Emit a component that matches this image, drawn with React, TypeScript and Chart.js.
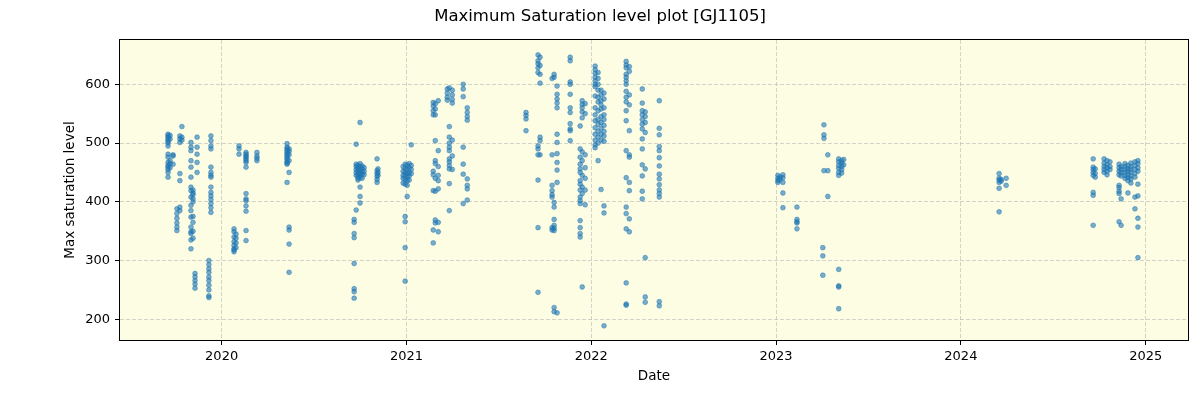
import React, { useEffect, useRef } from "react";
import { Chart, registerables } from "chart.js";

Chart.register(...registerables);

const TITLE = "Maximum Saturation level plot [GJ1105]";
const X_LABEL = "Date";
const Y_LABEL = "Max saturation level";
const X_TICKS = [2020, 2021, 2022, 2023, 2024, 2025];
const Y_TICKS = [200, 300, 400, 500, 600];
const X_MIN = 2019.45;
const X_MAX = 2025.229;
const Y_MIN = 164.8;
const Y_MAX = 675.4;

// [decimal year, values observed that night]
type Night = [number, number[]];

const season2019: Night[] = [
  [2019.71, [515, 512, 509, 506, 503, 500, 495, 481, 476, 467, 462, 459, 455, 450, 442]],
  [2019.721, [513, 507, 470, 465, 458]],
  [2019.737, [480, 478, 464]],
  [2019.758, [388, 380, 372, 364, 357, 351]],
  [2019.774, [512, 507, 501, 448, 436, 391, 385]],
  [2019.785, [528, 510, 505]],
  [2019.834, [501, 493, 487, 470, 459, 442, 425, 419, 408, 394, 385, 374, 357, 349, 346, 335, 320]],
  [2019.845, [420, 415, 412, 405, 400, 375, 365, 350, 338]],
  [2019.856, [278, 272, 266, 260, 253]],
  [2019.867, [510, 493, 481, 467, 450]],
  [2019.931, [300, 293, 286, 280, 272, 266, 258, 250, 240, 237]],
  [2019.942, [512, 504, 495, 490, 459, 450, 445, 442, 425, 416, 410, 404, 397, 390, 382]],
];

const season2020a: Night[] = [
  [2020.067, [354, 349, 340, 332, 326, 320, 318, 315]],
  [2020.078, [345, 338, 330, 322]],
  [2020.094, [495, 490, 481]],
  [2020.132, [484, 481, 478, 476, 473, 470, 467, 459, 414, 405, 402, 393, 384, 351, 334]],
  [2020.191, [484, 478, 474, 470]],
  [2020.354, [499, 493, 490, 487, 484, 481, 478, 475, 472, 468, 466, 464, 433]],
  [2020.365, [490, 486, 480, 470, 450, 357, 352, 328, 280]],
];

const season2020b: Night[] = [
  [2020.717, [370, 365, 346, 339, 295, 252, 247, 236]],
  [2020.728, [498, 464, 460, 455, 450, 445, 386]],
  [2020.738, [462, 458, 453, 448, 444, 440, 437]],
  [2020.749, [535, 465, 460, 455, 450, 446, 441, 425, 409, 398]],
  [2020.76, [461, 456, 451, 447, 440]],
  [2020.771, [458, 452, 446]],
  [2020.841, [473, 453, 448, 443, 438, 433]],
  [2020.846, [456, 450, 445]],
  [2020.982, [460, 452, 445, 440, 432]],
  [2020.993, [464, 457, 450, 445, 438, 430, 375, 366, 322, 265]],
  [2021.004, [462, 455, 448, 442, 436, 428, 409]],
  [2021.015, [465, 458, 450, 444, 437]],
  [2021.026, [497, 462, 455, 448]],
];

const season2021a: Night[] = [
  [2021.145, [569, 563, 555, 548, 452, 446, 419, 352, 330]],
  [2021.156, [567, 558, 548, 504, 470, 465, 440, 418, 369, 364]],
  [2021.172, [572, 487, 460, 445, 436, 422, 365, 349]],
  [2021.221, [592, 585, 578, 573]],
  [2021.232, [594, 528, 510, 500, 493, 487, 473, 468, 462, 456, 431, 385]],
  [2021.248, [590, 582, 574, 568, 505, 478, 455]],
  [2021.307, [600, 592, 579, 493, 464, 447, 397]],
  [2021.329, [560, 552, 545, 539, 439, 428, 422, 403]],
];

const season2021b: Night[] = [
  [2021.647, [552, 547, 541, 521]],
  [2021.712, [650, 640, 635, 628, 620, 495, 490, 480, 437, 356, 246]],
  [2021.723, [646, 632, 617, 602, 510, 504, 480]],
  [2021.788, [610, 480, 428, 419, 412, 408, 356, 352]],
  [2021.799, [617, 612, 399, 391, 370, 360, 355, 351, 220, 213]],
  [2021.815, [597, 583, 575, 568, 560, 515, 501, 482, 467, 454, 433, 211]],
  [2021.886, [646, 640, 604, 600, 583, 560, 552, 533, 524, 521, 504]],
  [2021.94, [529, 490, 476, 464, 456, 450, 436, 430, 420, 408, 402, 397, 368, 356, 346, 340]],
  [2021.951, [572, 566, 560, 553, 543, 485, 470, 445, 425, 414, 255]],
  [2021.967, [567, 550, 480, 458, 440, 420, 395]],
];

const season2022: Night[] = [
  [2022.021, [631, 625, 619, 612, 606, 600, 596, 580, 560, 548, 538, 526, 515, 505, 497, 492]],
  [2022.037, [620, 610, 600, 590, 578, 570, 555, 540, 532, 520, 510, 500, 470]],
  [2022.053, [590, 582, 572, 565, 558, 545, 535, 525, 515, 505, 421]],
  [2022.069, [585, 575, 560, 548, 540, 530, 520, 512, 503, 393, 381, 189]],
  [2022.189, [639, 633, 628, 617, 612, 606, 600, 588, 578, 570, 555, 538, 487, 441, 391, 380, 354, 262, 224, 226]],
  [2022.206, [630, 622, 582, 565, 521, 480, 476, 433, 419, 371, 349]],
  [2022.276, [592, 568, 555, 548, 540, 532, 524, 507, 490, 463, 444, 418, 405]],
  [2022.292, [553, 545, 535, 518, 456, 305, 238, 229]],
  [2022.368, [572, 525, 514, 494, 487, 475, 461, 447, 439, 429, 420, 414, 408, 230, 223]],
];

const season2023: Night[] = [
  [2023.01, [445, 440, 436, 433]],
  [2023.021, [442, 438]],
  [2023.037, [446, 441, 433, 415, 390]],
  [2023.113, [391, 370, 366, 364, 354]],
  [2023.253, [322, 308, 275]],
  [2023.259, [531, 514, 508, 453]],
  [2023.28, [480, 453, 409]],
  [2023.339, [473, 468, 462, 457, 450, 445, 285, 257, 255, 218]],
  [2023.355, [470, 466, 460, 455, 449]],
  [2023.366, [472, 463]],
];

const season2024: Night[] = [
  [2024.207, [448, 440, 437, 433, 423, 383]],
  [2024.218, [438, 435]],
  [2024.245, [440, 428]],
  [2024.716, [473, 459, 455, 450, 445, 416, 411, 360]],
  [2024.727, [456, 448, 442]],
  [2024.775, [473, 466, 460, 455, 450]],
  [2024.791, [470, 463, 458, 452, 446]],
  [2024.807, [468, 460, 455]],
  [2024.856, [464, 458, 452, 446, 428, 424, 418, 414, 366]],
  [2024.867, [460, 455, 450, 444, 405, 360]],
  [2024.888, [465, 460, 455, 450, 445, 440]],
  [2024.904, [462, 456, 452, 446, 441, 436, 415]],
  [2024.92, [466, 460, 455, 450, 444, 439, 432]],
  [2024.942, [468, 462, 455, 448, 442, 408, 388]],
  [2024.958, [470, 465, 458, 452, 430, 410, 372, 357, 305]],
];

const ALL_SEASONS = [season2019, season2020a, season2020b, season2021a, season2021b, season2022, season2023, season2024];

const FONT = "'DejaVu Sans', sans-serif";

const framePlugin = {
  id: "frame",
  beforeDraw(chart: any) {
    const { ctx, chartArea } = chart;
    ctx.save();
    ctx.fillStyle = "#ffffff";
    ctx.fillRect(0, 0, chart.width, chart.height);
    ctx.fillStyle = "#fdfde4";
    ctx.fillRect(chartArea.left, chartArea.top, chartArea.right - chartArea.left, chartArea.bottom - chartArea.top);
    ctx.restore();
  },
  afterDraw(chart: any) {
    const { ctx, chartArea } = chart;
    ctx.save();
    ctx.strokeStyle = "#000000";
    ctx.lineWidth = 1;
    ctx.strokeRect(chartArea.left - 0.5, chartArea.top - 0.5, chartArea.right - chartArea.left + 1, chartArea.bottom - chartArea.top + 1);
    ctx.fillStyle = "#000000";
    ctx.textAlign = "center";
    ctx.textBaseline = "middle";
    ctx.font = `16.5px ${FONT}`;
    ctx.fillText(TITLE, chart.width / 2, 17);
    ctx.font = `13.5px ${FONT}`;
    ctx.fillText(X_LABEL, (chartArea.left + chartArea.right) / 2, 376);
    ctx.translate(70, (chartArea.top + chartArea.bottom) / 2);
    ctx.rotate(-Math.PI / 2);
    ctx.fillText(Y_LABEL, 0, 0);
    ctx.restore();
  },
};

export default function App() {
  const ref = useRef<HTMLCanvasElement>(null);

  useEffect(() => {
    const points = ALL_SEASONS.flat().flatMap(([x, vals]) => vals.map((y) => ({ x, y })));
    const gridCommon = {
      color: "rgba(176,176,176,0.55)",
      lineWidth: 1,
      tickColor: "#000000",
      tickLength: 5,
      tickWidth: 1,
      drawTicks: true,
    };
    const chart = new Chart(ref.current as HTMLCanvasElement, {
      type: "scatter",
      data: {
        datasets: [
          {
            data: points,
            backgroundColor: "rgba(31,119,180,0.6)",
            borderColor: "rgba(31,119,180,0.6)",
            borderWidth: 0.8,
            pointRadius: 2.4,
          },
        ],
      },
      options: {
        responsive: false,
        animation: false,
        devicePixelRatio: 1,
        layout: { padding: { top: 40, right: 12, left: 0, bottom: 0 } },
        plugins: {
          legend: { display: false },
          tooltip: { enabled: false },
          title: { display: false },
        },
        scales: {
          x: {
            type: "linear",
            min: X_MIN,
            max: X_MAX,
            afterBuildTicks: (s: any) => {
              s.ticks = X_TICKS.map((v) => ({ value: v }));
            },
            afterFit: (s: any) => {
              s.height = 60;
            },
            grid: gridCommon,
            border: { display: false, dash: [4, 2] },
            ticks: {
              color: "#000000",
              font: { family: FONT, size: 13 },
              padding: 4,
              maxRotation: 0,
              autoSkip: false,
              callback: (v: any) => String(v),
            },
          },
          y: {
            type: "linear",
            min: Y_MIN,
            max: Y_MAX,
            afterBuildTicks: (s: any) => {
              s.ticks = Y_TICKS.map((v) => ({ value: v }));
            },
            afterFit: (s: any) => {
              s.width = 120;
            },
            grid: gridCommon,
            border: { display: false, dash: [4, 2] },
            ticks: {
              color: "#000000",
              font: { family: FONT, size: 13 },
              padding: 5,
              autoSkip: false,
              callback: (v: any) => String(v),
            },
          },
        },
      } as any,
      plugins: [framePlugin],
    });
    return () => chart.destroy();
  }, []);

  return (
    <div style={{ position: "fixed", left: 0, top: 0, width: 1200, height: 400, background: "#ffffff" }}>
      <canvas ref={ref} width={1200} height={400} style={{ width: 1200, height: 400, display: "block" }} />
    </div>
  );
}
